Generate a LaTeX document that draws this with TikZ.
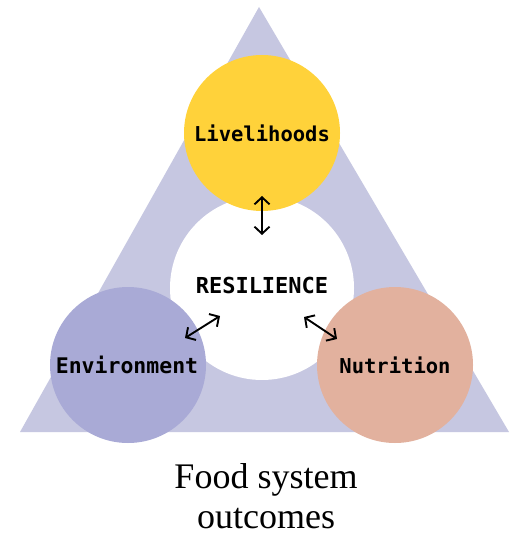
\documentclass[tikz,border=0pt]{standalone}
\usepackage{fontspec}
\setmainfont{Liberation Serif}
\newfontfamily\labelfont{DejaVu Sans Mono}[BoldFont={DejaVu Sans Mono Bold}]
\usetikzlibrary{arrows.meta}
\definecolor{triback}{HTML}{C6C7E1}
\definecolor{liveyellow}{HTML}{FFD23A}
\definecolor{envpurple}{HTML}{A9AAD6}
\definecolor{nutpink}{HTML}{E2B19E}
\begin{document}
\begin{tikzpicture}[x=1pt,y=-1pt,
  bubble/.style={circle,minimum size=156pt,inner sep=0pt,draw=none},
  lbl/.style={font=\labelfont\bfseries\fontsize{20.5}{24}\selectfont,text=black},
  link/.style={{Straight Barb[length=7pt,width=15pt]}-{Straight Barb[length=7pt,width=15pt]},line width=1.9pt,black}]
\useasboundingbox (0,0) rectangle (516,537);
\fill[white] (0,0) rectangle (516,537);
\coordinate (apex) at (259,7);
\coordinate (bl) at (20,432);
\coordinate (br) at (509,432);
\fill[triback] (apex) -- (bl) -- (br) -- cycle;
\node[circle,minimum size=184pt,inner sep=0pt,fill=white] (res) at (262,288) {};
\node[bubble,fill=liveyellow] (live) at (262,133) {};
\node[bubble,fill=envpurple] (env) at (128,365) {};
\node[bubble,fill=nutpink] (nut) at (395,365) {};
\node[lbl] (livet) at (262,133) {Livelihoods};
\node[lbl,font=\labelfont\bfseries\fontsize{22}{24}\selectfont] (rest) at (262,285) {RESILIENCE};
\node[lbl,font=\labelfont\bfseries\fontsize{21.5}{24}\selectfont] (envt) at (127,365) {Environment};
\node[lbl] (nutt) at (395,365) {Nutrition};
\coordinate (a1) at (262,196);
\coordinate (a2) at (262,235);
\coordinate (b1) at (185,338);
\coordinate (b2) at (220,316);
\coordinate (c1) at (304,317);
\coordinate (c2) at (337,339);
\draw[link] (a1) -- (a2);
\draw[link] (b1) -- (b2);
\draw[link] (c1) -- (c2);
\node[font=\fontsize{36}{40}\selectfont,align=center,inner sep=0pt] (cap) at (266,496) {Food system\\outcomes};
\end{tikzpicture}
\end{document}
